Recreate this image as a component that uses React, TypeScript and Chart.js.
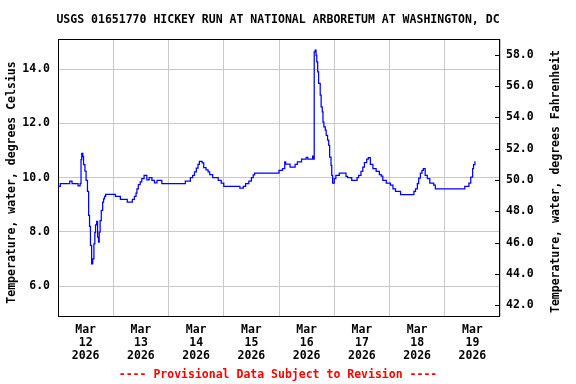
import React, { useEffect, useRef } from "react";
import { Chart, registerables } from "chart.js";

Chart.register(...registerables);

const TITLE = "USGS 01651770 HICKEY RUN AT NATIONAL ARBORETUM AT WASHINGTON, DC";
const Y_TITLE_C = "Temperature, water, degrees Celsius";
const Y_TITLE_F = "Temperature, water, degrees Fahrenheit";
const FOOTER = "---- Provisional Data Subject to Revision ----";

const monthLabel = "Mar";
const yearLabel = "2026";
const dayLabels = ["12", "13", "14", "15", "16", "17", "18", "19"];
const dayLabelHours = [12, 36, 60, 84, 108, 132, 156, 180];
const dayGridHours = [0, 24, 48, 72, 96, 120, 144, 168, 192];
const celsiusTicks = [6, 8, 10, 12, 14];
const fahrenheitTicks = [42, 44, 46, 48, 50, 52, 54, 56, 58];

// hours since Mar 12 2026 00:00
const hours = [
  0, 1.0, 5.1, 6.1, 8.7, 9.6, 10.0, 10.3, 10.8, 11.1,
  11.7, 12.2, 12.8, 13.3, 13.7, 14.1, 14.6, 15.1, 15.6, 16.0,
  16.3, 16.8, 17.2, 17.6, 17.9, 18.3, 18.8, 19.4, 19.8, 20.2,
  20.7, 24.9, 27.1, 30.1, 32.3, 33.2, 33.9, 34.3, 34.9, 35.7,
  36.4, 37.4, 38.6, 39.6, 40.8, 41.9, 43.0, 45.1, 55.3, 57.5,
  58.5, 59.3, 60.1, 60.8, 61.4, 62.6, 63.3, 64.3, 65.2, 65.9,
  67.2, 69.6, 70.9, 72.0, 79.0, 80.5, 81.5, 82.9, 84.0, 84.8,
  85.4, 96.0, 97.5, 98.5, 98.9, 100.8, 103.0, 104.0, 105.8, 107.8,
  108.5, 110.6, 110.9, 111.3, 111.7, 112.1, 112.4, 112.8, 113.2, 113.9,
  114.3, 114.8, 115.1, 115.5, 116.1, 116.5, 117.1, 117.6, 118.0, 118.6,
  118.9, 119.3, 120.0, 120.7, 122.2, 125.1, 125.8, 127.6, 129.9, 130.6,
  131.6, 132.4, 133.1, 134.1, 134.8, 135.7, 136.8, 138.2, 139.6, 140.4,
  141.1, 142.6, 144.4, 145.5, 146.6, 148.8, 154.6, 155.3, 156.1, 156.7,
  157.4, 158.1, 158.7, 159.5, 160.4, 161.5, 163.2, 163.9, 176.7, 178.5,
  179.3, 180.1, 180.5, 181.1,
];

// water temperature, degrees Celsius
const tempC = [
  9.68, 9.78, 9.87, 9.78, 9.70, 9.78, 10.66, 10.89, 10.77, 10.48,
  10.24, 9.90, 9.49, 8.61, 8.20, 7.50, 6.82, 7.01, 7.56, 7.97,
  8.26, 8.39, 7.81, 7.62, 7.99, 8.42, 8.79, 9.10, 9.22, 9.31,
  9.38, 9.31, 9.20, 9.10, 9.20, 9.31, 9.43, 9.59, 9.74, 9.84,
  9.96, 10.08, 9.92, 10.00, 9.90, 9.81, 9.90, 9.78, 9.87, 10.00,
  10.08, 10.21, 10.35, 10.49, 10.60, 10.54, 10.37, 10.29, 10.21, 10.11,
  10.00, 9.90, 9.80, 9.68, 9.61, 9.68, 9.78, 9.87, 10.00, 10.10,
  10.17, 10.27, 10.33, 10.58, 10.50, 10.39, 10.49, 10.58, 10.68, 10.75,
  10.68, 10.79, 10.68, 14.64, 14.70, 14.51, 14.27, 13.90, 13.47, 13.04,
  12.61, 12.42, 12.05, 11.87, 11.75, 11.56, 11.38, 11.19, 10.76, 10.45,
  10.08, 9.80, 9.96, 10.08, 10.17, 10.05, 10.00, 9.90, 10.00, 10.08,
  10.23, 10.39, 10.55, 10.68, 10.74, 10.49, 10.33, 10.23, 10.11, 10.06,
  9.90, 9.80, 9.72, 9.59, 9.49, 9.37, 9.49, 9.59, 9.78, 9.98,
  10.17, 10.27, 10.33, 10.08, 9.96, 9.80, 9.72, 9.59, 9.68, 9.80,
  10.02, 10.33, 10.48, 10.60,
];

const FAMILY = '"DejaVu Sans Mono", monospace';
const FONT_SIZE = 11.5;
const CANVAS_FONT = `bold ${FONT_SIZE}px ${FAMILY}`;
const GRID = "#c8c8c8";

const decorPlugin = {
  id: "decor",
  beforeDatasetsDraw(chart: any) {
    const { ctx, chartArea: a } = chart;
    ctx.save();
    ctx.strokeStyle = "#000";
    ctx.lineWidth = 1;
    ctx.strokeRect(
      Math.round(a.left) + 0.5,
      Math.round(a.top) + 0.5,
      Math.round(a.right - a.left) - 1,
      Math.round(a.bottom - a.top)
    );
    const y2 = chart.scales.y2;
    y2.ticks.forEach((t: any) => {
      const y = Math.round(y2.getPixelForValue(t.value)) + 0.5;
      ctx.beginPath();
      ctx.moveTo(Math.round(a.right) - 5, y);
      ctx.lineTo(Math.round(a.right), y);
      ctx.stroke();
    });
    ctx.restore();
  },
  afterDraw(chart: any) {
    const { ctx } = chart;
    ctx.save();
    ctx.font = CANVAS_FONT;
    ctx.fillStyle = "#000";
    ctx.textAlign = "center";
    ctx.textBaseline = "middle";
    ctx.fillText(TITLE, 278, 20);
    ctx.save();
    ctx.translate(12, 182.5);
    ctx.rotate(-Math.PI / 2);
    ctx.fillText(Y_TITLE_C, 0, 0);
    ctx.restore();
    ctx.save();
    ctx.translate(556, 181.5);
    ctx.rotate(-Math.PI / 2);
    ctx.fillText(Y_TITLE_F, 0, 0);
    ctx.restore();
    ctx.fillStyle = "#ff0000";
    ctx.fillText(FOOTER, 278, 375);
    ctx.restore();
  },
};

export default function App() {
  const ref = useRef<HTMLCanvasElement | null>(null);

  useEffect(() => {
    if (!ref.current) return;
    const tickFont = { family: FAMILY, size: FONT_SIZE, weight: "bold" as const, lineHeight: 1.1 };
    const chart = new Chart(ref.current, {
      type: "line",
      data: {
        datasets: [
          {
            data: hours.map((h, i) => ({ x: h, y: tempC[i] })),
            borderColor: "#0000ff",
            borderWidth: 1.25,
            pointRadius: 0,
            stepped: true,
            fill: false,
            xAxisID: "x",
            yAxisID: "y",
          },
        ],
      },
      options: {
        animation: false,
        responsive: false,
        devicePixelRatio: 1,
        layout: { padding: { top: 39, left: 0, right: 0, bottom: 0 } },
        plugins: {
          legend: { display: false },
          tooltip: { enabled: false },
          title: { display: false },
        },
        scales: {
          x: {
            type: "linear",
            position: "bottom",
            min: 0,
            max: 192,
            afterBuildTicks: (s: any) => {
              s.ticks = dayGridHours.map((v) => ({ value: v }));
            },
            ticks: { display: false },
            grid: { color: GRID, drawTicks: false, lineWidth: 1 },
            border: { display: false },
            afterFit: (s: any) => {
              s.height = 0;
            },
          },
          x2: {
            type: "linear",
            position: "bottom",
            min: 0,
            max: 192,
            afterBuildTicks: (s: any) => {
              s.ticks = dayLabelHours.map((v) => ({ value: v }));
            },
            ticks: {
              autoSkip: false,
              maxRotation: 0,
              minRotation: 0,
              padding: 8,
              color: "#000",
              font: tickFont,
              callback: (_v: any, i: number) => [monthLabel, dayLabels[i], yearLabel],
            },
            grid: { display: false, drawTicks: false },
            border: { display: false },
            afterFit: (s: any) => {
              s.height = 68;
            },
          },
          y: {
            type: "linear",
            position: "left",
            min: 4.9,
            max: 15.11,
            afterBuildTicks: (s: any) => {
              s.ticks = celsiusTicks.map((v) => ({ value: v }));
            },
            ticks: {
              padding: 8,
              color: "#000",
              font: tickFont,
              callback: (v: any) => Number(v).toFixed(1),
            },
            grid: { color: GRID, drawTicks: false, lineWidth: 1 },
            border: { display: false },
            afterFit: (s: any) => {
              s.width = 58;
            },
          },
          y2: {
            type: "linear",
            position: "right",
            min: 41.32,
            max: 59.0,
            afterBuildTicks: (s: any) => {
              s.ticks = fahrenheitTicks.map((v) => ({ value: v }));
            },
            ticks: {
              padding: 6,
              color: "#000",
              font: tickFont,
              callback: (v: any) => Number(v).toFixed(1),
            },
            grid: { display: false, drawTicks: false },
            border: { display: false },
            afterFit: (s: any) => {
              s.width = 76;
            },
          },
        },
      },
      plugins: [decorPlugin],
    });
    return () => chart.destroy();
  }, []);

  return (
    <div style={{ position: "fixed", left: 0, top: 0, width: 576, height: 384, background: "#fff" }}>
      <canvas ref={ref} width={576} height={384} style={{ display: "block" }} />
    </div>
  );
}
